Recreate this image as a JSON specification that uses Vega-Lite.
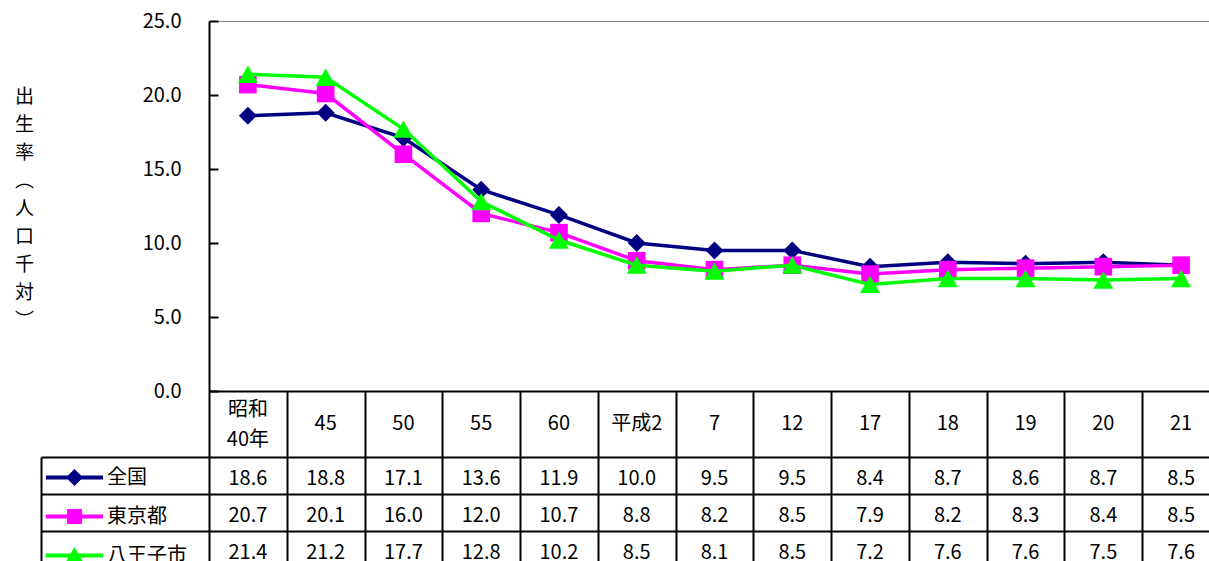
{
  "$schema": "https://vega.github.io/schema/vega-lite/v6.json",
  "padding": {"left": 13, "top": 10, "right": 0, "bottom": 0},
  "background": "white",
  "datasets": {
    "rates": [
      {"cat": "昭和\n40年", "series": "全国", "value": 18.6},
      {"cat": "45", "series": "全国", "value": 18.8},
      {"cat": "50", "series": "全国", "value": 17.1},
      {"cat": "55", "series": "全国", "value": 13.6},
      {"cat": "60", "series": "全国", "value": 11.9},
      {"cat": "平成2", "series": "全国", "value": 10.0},
      {"cat": "7", "series": "全国", "value": 9.5},
      {"cat": "12", "series": "全国", "value": 9.5},
      {"cat": "17", "series": "全国", "value": 8.4},
      {"cat": "18", "series": "全国", "value": 8.7},
      {"cat": "19", "series": "全国", "value": 8.6},
      {"cat": "20", "series": "全国", "value": 8.7},
      {"cat": "21", "series": "全国", "value": 8.5},
      {"cat": "昭和\n40年", "series": "東京都", "value": 20.7},
      {"cat": "45", "series": "東京都", "value": 20.1},
      {"cat": "50", "series": "東京都", "value": 16.0},
      {"cat": "55", "series": "東京都", "value": 12.0},
      {"cat": "60", "series": "東京都", "value": 10.7},
      {"cat": "平成2", "series": "東京都", "value": 8.8},
      {"cat": "7", "series": "東京都", "value": 8.2},
      {"cat": "12", "series": "東京都", "value": 8.5},
      {"cat": "17", "series": "東京都", "value": 7.9},
      {"cat": "18", "series": "東京都", "value": 8.2},
      {"cat": "19", "series": "東京都", "value": 8.3},
      {"cat": "20", "series": "東京都", "value": 8.4},
      {"cat": "21", "series": "東京都", "value": 8.5},
      {"cat": "昭和\n40年", "series": "八王子市", "value": 21.4},
      {"cat": "45", "series": "八王子市", "value": 21.2},
      {"cat": "50", "series": "八王子市", "value": 17.7},
      {"cat": "55", "series": "八王子市", "value": 12.8},
      {"cat": "60", "series": "八王子市", "value": 10.2},
      {"cat": "平成2", "series": "八王子市", "value": 8.5},
      {"cat": "7", "series": "八王子市", "value": 8.1},
      {"cat": "12", "series": "八王子市", "value": 8.5},
      {"cat": "17", "series": "八王子市", "value": 7.2},
      {"cat": "18", "series": "八王子市", "value": 7.6},
      {"cat": "19", "series": "八王子市", "value": 7.6},
      {"cat": "20", "series": "八王子市", "value": 7.5},
      {"cat": "21", "series": "八王子市", "value": 7.6}
    ]
  },
  "data": {"name": "rates"},
  "columns": 2,
  "spacing": 0,
  "bounds": "flush",
  "align": "each",
  "concat": [
    {
      "width": 168, "height": 370,
      "mark": {"type": "text", "text": ""},
      "encoding": {}
    },
    {
      "width": 1011, "height": 370,
      "view": {"stroke": "#808080", "strokeWidth": 1},
      "encoding": {
        "x": {"field": "cat", "type": "nominal",
              "sort": ["昭和\n40年", "45", "50", "55", "60", "平成2", "7", "12", "17", "18", "19", "20", "21"],
              "scale": {"type": "point", "padding": 0.5},
              "axis": {"labels": false, "ticks": false, "domain": true, "domainColor": "black", "domainWidth": 2, "grid": false, "title": null}},
        "y": {"field": "value", "type": "quantitative",
              "scale": {"domain": [0, 25], "nice": false},
              "axis": {"values": [0, 5, 10, 15, 20, 25], "format": ".1f", "grid": false,
                       "tickSize": -9, "tickColor": "black", "tickWidth": 2, "labelPadding": 37,
                       "labelFontSize": 20, "labelColor": "black",
                       "domainColor": "black", "domainWidth": 2,
                       "title": ["出", "生", "率", "︵", "人", "口", "千", "対", "︶"],
                       "titleAngle": 0, "titleX": -185, "titleY": 75, "titleAlign": "center", "titleBaseline": "middle",
                       "titleLineHeight": 28, "titleFontSize": 19, "titleFont": "Noto Sans CJK JP", "titleFontWeight": "normal", "titleColor": "black"}}
      },
      "layer": [
        {"transform": [{"filter": "datum.series === '全国'"}],
         "mark": {"type": "line", "color": "#000080", "strokeWidth": 3.5,
                  "point": {"shape": "diamond", "size": 324, "filled": true, "color": "#000080", "opacity": 1}}},
        {"transform": [{"filter": "datum.series === '東京都'"}],
         "mark": {"type": "line", "color": "#FF00FF", "strokeWidth": 3.5,
                  "point": {"shape": "square", "size": 310, "filled": true, "color": "#FF00FF", "opacity": 1}}},
        {"transform": [{"filter": "datum.series === '八王子市'"}],
         "mark": {"type": "line", "color": "#00FF00", "strokeWidth": 3.5,
                  "point": {"shape": "triangle-up", "size": 400, "filled": true, "color": "#00FF00", "opacity": 1}}},
        {"transform": [{"filter": "false"}],
         "mark": {"type": "point", "filled": true, "opacity": 1},
         "encoding": {
           "color": {"field": "series", "type": "nominal",
                     "scale": {"domain": ["全国", "東京都", "八王子市"], "range": ["#000080", "#FF00FF", "#00FF00"]},
                     "legend": {"title": null, "orient": "none", "legendX": 5, "legendY": 428, "padding": 0,
                                "labelFont": "Noto Sans CJK JP", "labelFontSize": 20, "labelColor": "black",
                                "symbolSize": 3249, "symbolStrokeWidth": 0, "rowPadding": -23, "labelOffset": 4}},
           "shape": {"field": "series", "type": "nominal",
                     "scale": {"domain": ["全国", "東京都", "八王子市"],
                               "range": ["M-1,-0.07H1V0.07H-1Z M-0.3,0L0,-0.3L0.3,0L0,0.3Z",
                                         "M-1,-0.07H1V0.07H-1Z M-0.26,-0.26H0.26V0.26H-0.26Z",
                                         "M-1,-0.07H1V0.07H-1Z M0,-0.3L0.3,0.22H-0.3Z"]},
                     "legend": {"title": null, "orient": "none", "legendX": 5, "legendY": 428, "padding": 0,
                                "labelFont": "Noto Sans CJK JP", "labelFontSize": 20, "labelColor": "black",
                                "symbolSize": 3249, "symbolStrokeWidth": 0, "rowPadding": -23, "labelOffset": 4}}
         }}
      ]
    },
    {
      "width": 168, "height": 66,
      "mark": {"type": "text", "text": ""},
      "encoding": {}
    },
    {
      "width": 1011, "height": 66,
      "transform": [{"filter": "datum.series === '全国'"}],
      "encoding": {
        "x": {"field": "cat", "type": "nominal", "bandPosition": 0.5,
              "sort": ["昭和\n40年", "45", "50", "55", "60", "平成2", "7", "12", "17", "18", "19", "20", "21"],
              "scale": {"type": "band", "paddingInner": 0, "paddingOuter": 0},
              "axis": {"grid": true, "tickBand": "extent", "labels": false, "ticks": false, "domain": false, "title": null,
                       "gridColor": "black", "gridWidth": 2, "gridOpacity": 1}},
        "text": {"field": "cat", "type": "nominal"}
      },
      "layer": [
        {"transform": [{"filter": "indexof(datum.cat, '\\n') < 0"}],
         "mark": {"type": "text", "fontSize": 20, "color": "black"}},
        {"transform": [{"filter": "indexof(datum.cat, '\\n') >= 0"}],
         "mark": {"type": "text", "fontSize": 20, "lineBreak": "\n", "lineHeight": 30, "dy": -14, "color": "black"}}
      ]
    },
    {
      "width": 168, "height": 111,
      "mark": {"type": "text", "text": ""},
      "encoding": {
        "y": {"field": "series", "type": "nominal", "bandPosition": 0.5,
              "sort": ["全国", "東京都", "八王子市"],
              "scale": {"type": "band", "paddingInner": 0, "paddingOuter": 0},
              "axis": {"grid": true, "tickBand": "extent", "labels": false, "ticks": false, "domain": true,
                       "domainColor": "black", "domainWidth": 2, "title": null,
                       "gridColor": "black", "gridWidth": 2, "gridOpacity": 1}}
      }
    },
    {
      "width": 1011, "height": 111,
      "mark": {"type": "text", "fontSize": 20, "dy": 3, "color": "black"},
      "encoding": {
        "x": {"field": "cat", "type": "nominal", "bandPosition": 0.5,
              "sort": ["昭和\n40年", "45", "50", "55", "60", "平成2", "7", "12", "17", "18", "19", "20", "21"],
              "scale": {"type": "band", "paddingInner": 0, "paddingOuter": 0},
              "axis": {"grid": true, "tickBand": "extent", "labels": false, "ticks": false, "domain": false, "title": null,
                       "gridColor": "black", "gridWidth": 2, "gridOpacity": 1}},
        "y": {"field": "series", "type": "nominal", "bandPosition": 0.5,
              "sort": ["全国", "東京都", "八王子市"],
              "scale": {"type": "band", "paddingInner": 0, "paddingOuter": 0},
              "axis": {"grid": true, "tickBand": "extent", "labels": false, "ticks": false, "domain": false, "title": null,
                       "gridColor": "black", "gridWidth": 2, "gridOpacity": 1}},
        "text": {"field": "value", "type": "quantitative", "format": ".1f"}
      }
    }
  ],
  "config": {
    "view": {"stroke": null},
    "font": "Liberation Sans Narrow, Noto Sans CJK JP",
    "text": {"fontSize": 20, "color": "black"},
    "axis": {"labelColor": "black"}
  }
}
